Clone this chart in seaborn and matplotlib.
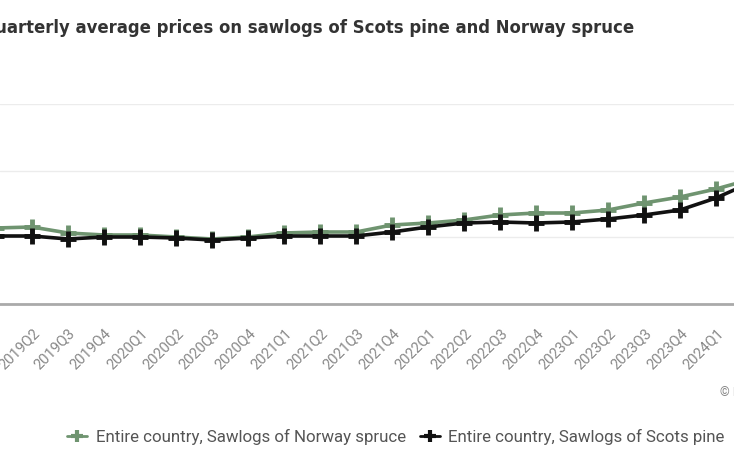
import matplotlib
matplotlib.use("Agg")
import matplotlib.pyplot as plt
import seaborn as sns
import pandas as pd
from matplotlib.lines import Line2D

quarters = ["2019Q1", "2019Q2", "2019Q3", "2019Q4", "2020Q1", "2020Q2", "2020Q3", "2020Q4",
            "2021Q1", "2021Q2", "2021Q3", "2021Q4", "2022Q1", "2022Q2", "2022Q3", "2022Q4",
            "2023Q1", "2023Q2", "2023Q3", "2023Q4", "2024Q1", "2024Q2"]
spruce = [62.8, 63.1, 61.3, 60.7, 60.7, 60.1, 59.5, 60.1, 61.3, 61.6, 61.6, 63.7,
          64.3, 65.2, 66.7, 67.3, 67.3, 68.2, 70.3, 72.1, 74.5, 77.5]
pine = [60.4, 60.4, 59.5, 60.1, 60.1, 59.8, 59.2, 59.8, 60.4, 60.4, 60.4, 61.6,
        63.1, 64.3, 64.6, 64.3, 64.6, 65.5, 66.7, 68.2, 71.8, 76.6]
series_names = ["Entire country, Sawlogs of Norway spruce", "Entire country, Sawlogs of Scots pine"]
title_text = "Quarterly average prices on sawlogs of Scots pine and Norway spruce"
source_text = "© Natural Resources Institute Finland"
y_ticks = [40, 60, 80, 100]

df = pd.DataFrame({
    "quarter": quarters * 2,
    "price": spruce + pine,
    "series": [series_names[0]] * len(quarters) + [series_names[1]] * len(quarters),
})

sns.set_theme(style="white")
plt.rcParams["font.family"] = ["Roboto", "DejaVu Sans"]

W, H = 734, 458
fig = plt.figure(figsize=(W / 100, H / 100), dpi=100)
ax = fig.add_axes([0, (H - 304) / H, 1, 200 / H])

colors = {series_names[0]: "#6f9470", series_names[1]: "#111111"}
sns.lineplot(data=df, x="quarter", y="price", hue="series", palette=colors,
             sort=False, linewidth=2.6, marker="+", markersize=11, markeredgewidth=3.5,
             legend=False, ax=ax)
for ln in ax.lines:
    ln.set_markeredgecolor(ln.get_color())
    ln.set_markerfacecolor(ln.get_color())

ax.set_xlim(1 - 32 / 36, 1 + 702 / 36)
ax.set_ylim(40, 100)
ax.set_yticks(y_ticks)
ax.set_yticklabels([])
ax.grid(axis="y", color="#ececec", linewidth=1)
ax.set_axisbelow(True)
for s in ["top", "right", "left"]:
    ax.spines[s].set_visible(False)
ax.spines["bottom"].set_color("#aaaaaa")
ax.spines["bottom"].set_linewidth(2)
ax.set_xlabel("")
ax.set_ylabel("")
ax.tick_params(axis="x", length=0, pad=16, labelsize=10.5, labelcolor="#888888")
ax.tick_params(axis="y", length=0)
plt.setp(ax.get_xticklabels(), rotation=45, ha="right", rotation_mode="anchor")

fig.text(634 / W, 1 - 28 / H, title_text, ha="right", va="center",
         fontsize=11.9, fontweight="bold", color="#333333", family="DejaVu Sans")
fig.text(720 / W, 1 - 392 / H, source_text, ha="left", va="center",
         fontsize=9, color="#888888")

handles = [Line2D([], [], color=colors[n], marker="+", markersize=9, markeredgewidth=3,
                  linewidth=2) for n in series_names]
fig.legend(handles, series_names, loc="center", bbox_to_anchor=(396 / W, 1 - 437 / H),
           ncol=2, frameon=False, fontsize=12.2, labelcolor="#555555",
           handlelength=1.2, handletextpad=0.5, columnspacing=0.8)

fig.savefig("out.png", dpi=100, facecolor="white")
